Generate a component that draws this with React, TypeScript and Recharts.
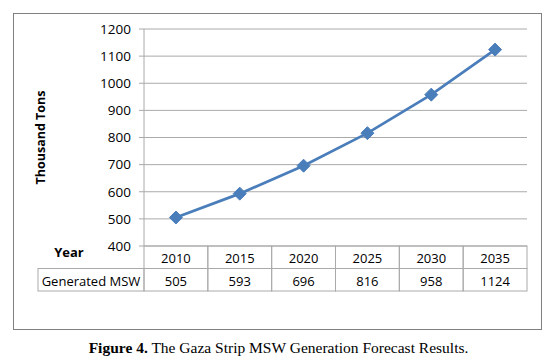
import React from "react";
import { LineChart, Line, XAxis, YAxis, CartesianGrid, Label } from "recharts";

const years = ["2010", "2015", "2020", "2025", "2030", "2035"];
const generatedMsw = [505, 593, 696, 816, 958, 1124];
const yTicks = [400, 500, 600, 700, 800, 900, 1000, 1100, 1200];

const data = years.map((year, i) => ({ year, msw: generatedMsw[i] }));

const W = 557;
const H = 340;
const PLOT_LEFT = 144;
const PLOT_RIGHT = 527;
const PLOT_TOP = 29;
const PLOT_BOTTOM = 246;
const ROW_H = 22.5;
const TABLE_LEFT = 38;
const BAND = (PLOT_RIGHT - PLOT_LEFT) / years.length;
const FONT = "'Open Sans', sans-serif";
const GRID = "#aaaaaa";
const BLUE = "#4a7ebb";

// x axis drawn as the data table under the plot
const TableTick = (props: any) => {
  const { x, payload, index } = props;
  const left = x - BAND / 2;
  return (
    <g fontFamily={FONT} fontSize={13} fill="#000">
      <rect x={left} y={PLOT_BOTTOM} width={BAND} height={ROW_H} fill="none" stroke={GRID} />
      <rect x={left} y={PLOT_BOTTOM + ROW_H} width={BAND} height={ROW_H} fill="none" stroke={GRID} />
      <text x={x} y={PLOT_BOTTOM + ROW_H / 2 + 1} textAnchor="middle" dominantBaseline="central">
        {payload.value}
      </text>
      <text x={x} y={PLOT_BOTTOM + ROW_H * 1.5 + 1} textAnchor="middle" dominantBaseline="central">
        {generatedMsw[index]}
      </text>
      {index === 0 && (
        <>
          <rect
            x={TABLE_LEFT}
            y={PLOT_BOTTOM + ROW_H}
            width={left - TABLE_LEFT}
            height={ROW_H}
            fill="none"
            stroke={GRID}
          />
          <text
            x={(TABLE_LEFT + left) / 2}
            y={PLOT_BOTTOM + ROW_H * 1.5 + 1}
            textAnchor="middle"
            dominantBaseline="central"
          >
            Generated MSW
          </text>
          <text x={69} y={252} textAnchor="middle" dominantBaseline="central" fontWeight="bold">
            Year
          </text>
        </>
      )}
    </g>
  );
};

const Diamond = (props: any) => {
  const { cx, cy } = props;
  if (cx == null || cy == null) return null;
  const r = 6.5;
  return (
    <polygon
      points={`${cx},${cy - r} ${cx + r},${cy} ${cx},${cy + r} ${cx - r},${cy}`}
      fill={BLUE}
      stroke={BLUE}
    />
  );
};

const App: React.FC = () => {
  return (
    <div style={{ position: "absolute", left: 0, top: 0, width: W, height: 362, background: "#fff" }}>
      <div
        style={{
          position: "absolute",
          left: 13,
          top: 13,
          width: 527,
          height: 315,
          border: "1px solid #808080",
        }}
      />
      <div style={{ position: "absolute", left: 0, top: 0 }}>
        <LineChart
          width={W}
          height={H}
          data={data}
          margin={{ top: PLOT_TOP, right: W - PLOT_RIGHT, bottom: H - PLOT_BOTTOM - 45, left: 0 }}
        >
          <CartesianGrid vertical={false} stroke={GRID} />
          <XAxis
            dataKey="year"
            scale="band"
            axisLine={false}
            tickLine={false}
            tick={<TableTick />}
            height={45}
            interval={0}
          />
          <YAxis
            domain={[400, 1200]}
            ticks={yTicks}
            interval={0}
            width={PLOT_LEFT}
            axisLine={{ stroke: GRID }}
            tickLine={{ stroke: GRID }}
            tickSize={5}
            tickMargin={8}
            tick={{ fill: "#000", fontSize: 13.5, fontFamily: FONT }}
          >
            <Label
              content={(p: any) => {
                const vb = p.viewBox;
                const cx = 40;
                const cy = vb.y + vb.height / 2;
                return (
                  <text
                    x={cx}
                    y={cy}
                    transform={`rotate(-90 ${cx} ${cy})`}
                    textAnchor="middle"
                    dominantBaseline="central"
                    fontFamily={FONT}
                    fontSize={12.5}
                    fontWeight="bold"
                    fill="#000"
                  >
                    Thousand Tons
                  </text>
                );
              }}
            />
          </YAxis>
          <Line
            dataKey="msw"
            stroke={BLUE}
            strokeWidth={2.75}
            dot={<Diamond />}
            activeDot={false}
            isAnimationActive={false}
          />
        </LineChart>
      </div>
      <div
        style={{
          position: "absolute",
          left: 0,
          top: 339,
          width: W,
          textAlign: "center",
          fontFamily: "'Liberation Serif', serif",
          fontSize: 15.5,
          color: "#000",
        }}
      >
        <b>Figure 4.</b> The Gaza Strip MSW Generation Forecast Results.
      </div>
    </div>
  );
};

export default App;
